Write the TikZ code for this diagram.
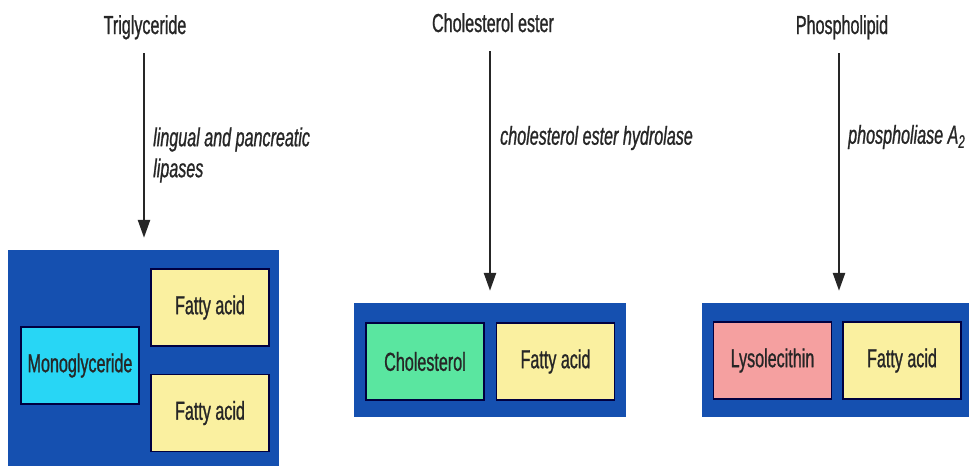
\documentclass[tikz,border=0pt]{standalone}
\usepackage{fontspec}
\setmainfont{Liberation Sans}[FakeStretch=0.62,
	UprightFeatures={FakeBold=0.9}, ItalicFeatures={FakeBold=0.9}]
\usepackage{xcolor}
\usetikzlibrary{positioning,arrows.meta}
\definecolor{panelblue}{RGB}{21,80,176}
\definecolor{monocyan}{RGB}{40,214,245}
\definecolor{fattyyellow}{RGB}{250,240,160}
\definecolor{cholgreen}{RGB}{90,230,160}
\definecolor{lysopink}{RGB}{245,160,160}

\begin{document}
\begin{tikzpicture}[
		x=1pt, y=-1pt,
		node distance=10pt and 10pt,
		title/.style={
			font=\fontsize{26}{30}\selectfont,
			text=black!85,
			inner sep=0pt,
			text height=19pt,
			text depth=6pt,
			anchor=base
		},
		enzyme/.style={
			font=\fontsize{26}{31}\selectfont\itshape,
			text=black!85,
			align=left,
			anchor=west,
			inner sep=0pt
		},
		panel/.style={
			fill=panelblue,
			inner sep=0pt
		},
		part/.style={
			draw=black!75!blue,
			line width=1.5pt,
			minimum width=118pt,
			minimum height=77pt,
			inner sep=0pt,
			font=\fontsize{26}{30}\selectfont,
			text=black!85
		},
		arrow/.style={-{Triangle[length=18pt,width=12pt]}, line width=2.5pt, black!85,
			shorten <=13pt, shorten >=12pt}
		]
		
		\useasboundingbox (0,0) rectangle (969,466);
		
		% Triglyceride
		\node[title] (trig) at (145,34) {Triglyceride};
		\node[panel, minimum width=271pt, minimum height=216pt] (panelA) at (143.5,358) {};
		\node[part, fill=monocyan] (mono) at (80,365.5) {Monoglyceride};
		\node[part, fill=fattyyellow] (fattyA) at (210,307.5) {Fatty acid};
		\node[part, fill=fattyyellow, below=27pt of fattyA] (fattyB) {Fatty acid};
		\node[enzyme] (lipase) at (153,155) {lingual and pancreatic\\lipases};
		
		% Cholesterol ester
		\node[title] (chol) at (493,32) {Cholesterol ester};
		\node[panel, minimum width=272pt, minimum height=114pt] (panelB) at (490,360) {};
		\node[part, fill=cholgreen] (cholpart) at (425,361.5) {Cholesterol};
		\node[part, fill=fattyyellow, right=11pt of cholpart] (fattyC) {Fatty acid};
		\node[enzyme] (hydrolase) at (500,138) {cholesterol ester hydrolase};
		
		% Phospholipid
		\node[title] (phos) at (842,34) {Phospholipid};
		\node[panel, minimum width=267pt, minimum height=114pt] (panelC) at (835.5,360) {};
		\node[part, fill=lysopink] (lyso) at (772.5,360.5) {Lysolecithin};
		\node[part, fill=fattyyellow, right=10pt of lyso] (fattyD) {Fatty acid};
		\node[enzyme] (phoslipase) at (848,137) {phospholiase A\textsubscript{2}};
		
		% Arrows
		\draw[arrow] ([xshift=-1pt]trig.south) -- ([xshift=-1pt]trig.south |- panelA.north);
		\draw[arrow] ([xshift=-3pt]chol.south) -- ([xshift=-3pt]chol.south |- panelB.north);
		\draw[arrow] ([xshift=-3pt]phos.south) -- ([xshift=-3pt]phos.south |- panelC.north);
		
	\end{tikzpicture}
\end{document}
